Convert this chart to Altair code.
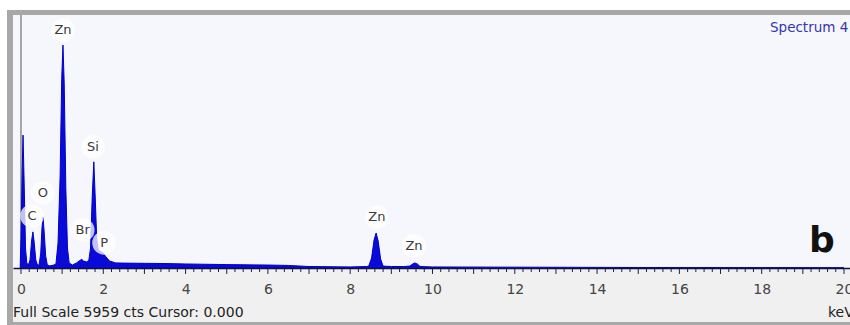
import altair as alt
import pandas as pd
import numpy as np

# Spectrum (energy in keV, counts)
energy = [-0.02, 0.00, 0.03, 0.05, 0.08, 0.11, 0.14, 0.18, 0.22, 0.26, 0.29, 0.32, 0.36, 0.40,
          0.44, 0.48, 0.51, 0.535, 0.56, 0.60, 0.64, 0.70, 0.80, 0.85, 0.90, 0.95, 0.99, 1.02,
          1.05, 1.09, 1.13, 1.17, 1.25, 1.35, 1.45, 1.48, 1.52, 1.60, 1.65, 1.69, 1.73, 1.77,
          1.80, 1.84, 1.88, 1.95, 2.00, 2.05, 2.15, 2.30, 2.5, 3.0, 3.5, 4.0, 5.0, 6.0, 6.5,
          7.0, 8.0, 8.4, 8.45, 8.52, 8.58, 8.63, 8.68, 8.74, 8.80, 9.0, 9.3, 9.45, 9.52, 9.57,
          9.63, 9.70, 10.0, 12.0, 15.0, 20.0]
counts = [0, 700, 2350, 3130, 1880, 470, 120, 70, 190, 660, 850, 610, 190, 70,
          70, 350, 940, 1200, 900, 280, 70, 50, 70, 95, 590, 2120, 4470, 5250,
          4360, 1880, 470, 120, 70, 120, 190, 200, 165, 140, 190, 470, 1650, 2500,
          1770, 700, 420, 380, 350, 280, 165, 120, 115, 110, 105, 95, 80, 70, 60,
          35, 25, 35, 45, 235, 660, 825, 635, 210, 45, 35, 35, 45, 95, 120,
          95, 35, 25, 20, 12, 8]

# Element labels
label_text = ["C", "O", "Zn", "Si", "Br", "P", "Zn", "Zn"]
label_energy = [0.27, 0.53, 1.02, 1.75, 1.50, 2.02, 8.65, 9.55]
label_counts = [1225, 1766, 5605, 2850, 895, 590, 1200, 520]

tick_labels = [0, 2, 4, 6, 8, 10, 12, 14, 16, 18, 20]
full_scale = 5959
cursor = 0.0

W, H = 837, 253
FONT = "DejaVu Sans"

xscale = alt.Scale(domain=[-0.194, 20.146], nice=False, zero=False)
yscale = alt.Scale(domain=[0, full_scale], nice=False)

spec = pd.DataFrame({"keV": energy, "cts": counts})
labels = pd.DataFrame({"t": label_text, "keV": label_energy, "cts": label_counts})
one = pd.DataFrame({"a": [0]})

minor_pos = np.round(np.arange(0, 20.01, 0.2), 2)
major_df = pd.DataFrame({"keV": [v for v in minor_pos if abs(v - round(v)) < 1e-6]})
minor_df = pd.DataFrame({"keV": [v for v in minor_pos if abs(v - round(v)) >= 1e-6]})

footer_bg = alt.Chart(one).mark_rect(color="#F0F0F0").encode(
    x=alt.value(0), x2=alt.value(W), y=alt.value(H), y2=alt.value(307))
frame_left = alt.Chart(one).mark_rect(color="#A8A8A8").encode(
    x=alt.value(-6), x2=alt.value(0), y=alt.value(-5), y2=alt.value(310))
frame_top = alt.Chart(one).mark_rect(color="#A8A8A8").encode(
    x=alt.value(-6), x2=alt.value(W), y=alt.value(-5), y2=alt.value(0))
frame_bot = alt.Chart(one).mark_rect(color="#A8A8A8").encode(
    x=alt.value(-6), x2=alt.value(W), y=alt.value(307), y2=alt.value(310))

cursor_rule = alt.Chart(pd.DataFrame({"keV": [cursor]})).mark_rule(
    color="#8A8A8A", strokeWidth=1.5).encode(
    x=alt.X("keV:Q", scale=xscale, title=None,
            axis=alt.Axis(values=tick_labels, format="d", ticks=False, grid=False,
                          domainColor="#101040", domainWidth=1.5, labelPadding=14,
                          labelFont=FONT, labelFontSize=14, labelColor="#444444",
                          labelFlush=False, zindex=2)),
    y=alt.value(0), y2=alt.value(H))

area = alt.Chart(spec).mark_area(color="#0A0AD8", opacity=1,
                                 line={"color": "#0000C8", "strokeWidth": 1},
                                 interpolate="linear").encode(
    x=alt.X("keV:Q", scale=xscale),
    y=alt.Y("cts:Q", scale=yscale, axis=None),
)

ticks_major = alt.Chart(major_df).mark_rule(color="#202050", strokeWidth=1).encode(
    x=alt.X("keV:Q", scale=xscale), y=alt.value(H), y2=alt.value(H + 6))
ticks_minor = alt.Chart(minor_df).mark_rule(color="#202050", strokeWidth=1).encode(
    x=alt.X("keV:Q", scale=xscale), y=alt.value(H), y2=alt.value(H + 4))

halos = alt.Chart(labels).mark_circle(size=560, color="#FFFFFF", opacity=0.75).encode(
    x=alt.X("keV:Q", scale=xscale), y=alt.Y("cts:Q", scale=yscale))
texts = alt.Chart(labels).mark_text(font=FONT, fontSize=13, color="#3A3A3A").encode(
    x=alt.X("keV:Q", scale=xscale), y=alt.Y("cts:Q", scale=yscale), text="t:N")

footer = alt.Chart(one).mark_text(font=FONT, fontSize=14, color="#222222", align="left",
                                  baseline="middle").encode(
    x=alt.value(0), y=alt.value(298),
    text=alt.value(f"Full Scale {full_scale} cts Cursor: {cursor:.3f}"))
kev = alt.Chart(one).mark_text(font=FONT, fontSize=14, color="#222222", align="left",
                               baseline="middle").encode(
    x=alt.value(815), y=alt.value(298), text=alt.value("keV"))
spectrum_name = alt.Chart(one).mark_text(font=FONT, fontSize=13.5, color="#3535B0", align="left",
                                         baseline="middle").encode(
    x=alt.value(757), y=alt.value(13), text=alt.value("Spectrum 4"))
panel = alt.Chart(one).mark_text(font=FONT, fontSize=36, fontWeight="bold", color="#111111",
                                 align="center", baseline="middle").encode(
    x=alt.value(809), y=alt.value(226), text=alt.value("b"))

chart = alt.layer(
    footer_bg, frame_left, frame_top, frame_bot, cursor_rule, area, ticks_major, ticks_minor,
    halos, texts, footer, kev, spectrum_name, panel
).properties(
    width=W, height=H,
    padding={"left": 13, "top": 15, "right": 0, "bottom": 57},
    autosize=alt.AutoSizeParams(type="none"),
    background="#FFFFFF",
).configure_view(fill="#F6F7FC", stroke=None)

chart.save("out.html", embed_options={"renderer": "svg", "actions": False})
